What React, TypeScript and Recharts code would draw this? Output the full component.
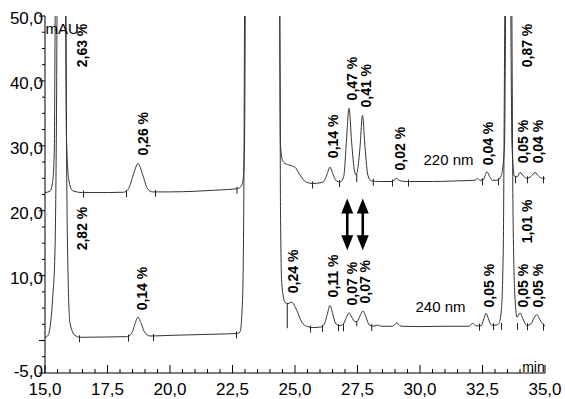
import { LineChart, Line, XAxis, YAxis, ReferenceDot, ReferenceLine } from 'recharts'

// retention time (min), signal (mAU)
const trace220: [number, number][] = [
  [15.0, 22.8], [15.2, 23.0], [15.3, 24.3], [15.37, 29], [15.43, 60], [15.8, 60], [15.86, 31],
  [15.95, 24.8], [16.1, 23.1], [16.5, 22.8], [17.5, 22.8], [18.15, 22.85], [18.34, 23.4],
  [18.53, 25.5], [18.72, 27.3], [18.91, 25.5], [19.1, 23.4], [19.3, 22.9], [20.0, 22.9],
  [21.0, 23.0], [22.0, 23.2], [22.7, 23.4], [22.85, 23.8], [22.93, 25], [22.98, 30], [23.03, 60],
  [24.37, 60], [24.42, 30], [24.5, 27.8], [24.6, 27.3], [24.8, 27.0], [25.0, 26.7], [25.2, 25.5],
  [25.45, 24.4], [25.7, 24.2], [26.0, 24.3], [26.15, 24.5], [26.28, 25.6], [26.4, 26.7],
  [26.52, 25.6], [26.65, 24.6], [26.8, 24.4], [26.95, 25.3], [27.05, 30.3], [27.16, 35.8],
  [27.27, 30.3], [27.38, 26.1], [27.44, 25.5], [27.5, 26.2], [27.6, 29.8], [27.7, 34.7],
  [27.8, 29.8], [27.92, 25.4], [28.05, 24.6], [28.4, 24.5], [28.9, 24.5], [29.05, 25.0],
  [29.2, 24.6], [29.5, 24.5], [30.5, 24.5], [31.5, 24.6], [32.2, 24.7], [32.3, 25.0], [32.4, 24.7],
  [32.52, 24.7], [32.6, 25.4], [32.68, 26.0], [32.78, 25.3], [32.9, 24.7], [33.1, 24.7],
  [33.25, 25.4], [33.38, 30], [33.45, 60], [33.6, 60], [33.68, 30], [33.78, 25.3], [33.88, 25.2],
  [34.0, 25.9], [34.15, 25.3], [34.28, 25.0], [34.45, 25.3], [34.6, 25.9], [34.75, 25.3],
  [34.9, 25.0], [35.0, 25.0],
]

const trace240: [number, number][] = [
  [15.0, 0.5], [15.1, 0.7], [15.2, 2.0], [15.3, 6.2], [15.4, 13.9], [15.46, 35], [15.5, 60],
  [15.82, 60], [15.87, 25], [15.93, 8.8], [16.0, 2.65], [16.2, 0.8], [16.4, 0.5], [17.5, 0.55],
  [18.3, 0.6], [18.5, 1.4], [18.6, 2.6], [18.72, 3.6], [18.85, 2.6], [18.98, 1.3], [19.2, 0.7],
  [20.0, 0.8], [21.0, 0.9], [22.0, 1.0], [22.7, 1.1], [22.8, 1.3], [22.9, 6.2], [22.95, 20],
  [23.0, 60], [24.38, 60], [24.42, 20], [24.47, 8.8], [24.6, 5.9], [24.72, 5.7], [24.87, 5.9],
  [25.07, 4.65], [25.27, 2.85], [25.47, 2.2], [25.73, 2.0], [26.05, 2.1], [26.2, 2.8], [26.3, 4.2],
  [26.4, 5.4], [26.5, 4.2], [26.62, 2.7], [26.75, 2.3], [26.9, 2.4], [27.05, 3.5], [27.16, 4.25],
  [27.27, 3.6], [27.4, 2.9], [27.5, 3.0], [27.6, 3.8], [27.72, 4.55], [27.84, 3.6], [27.97, 2.4],
  [28.1, 2.25], [28.2, 2.25], [28.3, 2.4], [28.45, 2.2], [28.9, 2.2], [29.07, 2.7], [29.25, 2.2],
  [30.0, 2.15], [31.0, 2.2], [31.95, 2.2], [32.1, 2.65], [32.25, 2.25], [32.45, 2.3], [32.55, 3.3],
  [32.64, 4.2], [32.74, 3.3], [32.85, 2.4], [33.0, 2.35], [33.15, 2.6], [33.25, 4.5], [33.33, 14],
  [33.42, 60], [33.65, 60], [33.72, 20], [33.8, 6.5], [33.88, 3.6], [34.0, 4.25], [34.12, 3.3],
  [34.27, 2.35], [34.45, 2.6], [34.55, 3.4], [34.67, 4.0], [34.8, 3.2], [34.92, 2.5], [35.0, 2.3],
]

// integration marks on the baselines: [time, signal]
const marks220: [number, number][] = [
  [16.54, 22.8], [18.26, 22.85], [19.42, 22.9], [22.68, 23.4], [25.7, 24.2], [26.78, 24.4],
  [28.13, 24.6], [28.9, 24.5], [29.54, 24.5], [32.5, 24.7], [33.14, 24.7], [33.82, 25.0],
  [34.3, 25.0], [34.94, 25.0],
]
const marks240: [number, number][] = [
  [16.38, 0.5], [18.34, 0.6], [19.34, 0.7], [22.66, 1.1], [25.62, 2.0], [26.1, 2.1], [26.74, 2.2],
  [26.94, 2.2], [28.07, 2.25], [32.38, 2.3], [32.94, 2.35], [33.26, 2.4], [33.9, 2.4], [34.3, 2.35],
  [34.94, 2.3],
]
// drop lines from a valley down to the baseline: [time, top, bottom]
const dropLines: [number, number, number][] = [
  [27.47, 25.6, 24.4], [24.69, 5.7, 1.9], [27.47, 2.95, 2.2],
]

// peak area labels: [time, signal where the text starts, text]
const labels220: [number, number, string][] = [
  [16.46, 42.1, '2,63 %'], [18.9, 28.5, '0,26 %'], [26.5, 28.1, '0,14 %'], [27.28, 37.0, '0,47 %'],
  [27.84, 35.9, '0,41 %'], [29.18, 26.2, '0,02 %'], [32.72, 27.0, '0,04 %'], [34.26, 42.1, '0,87 %'],
  [34.12, 27.3, '0,05 %'], [34.72, 27.3, '0,04 %'],
]
const labels240: [number, number, string][] = [
  [16.46, 13.9, '2,82 %'], [18.86, 4.65, '0,14 %'], [24.92, 7.3, '0,24 %'], [26.5, 6.65, '0,11 %'],
  [27.26, 5.4, '0,07 %'], [27.8, 5.7, '0,07 %'], [32.76, 5.1, '0,05 %'], [34.26, 15.0, '1,01 %'],
  [34.12, 5.1, '0,05 %'], [34.72, 5.1, '0,05 %'],
]
const arrowTimes = [27.09, 27.71]
const arrowRange = [21.9, 13.9]

const xTicks = [
  15, 15.5, 16, 16.5, 17, 17.5, 18, 18.5, 19, 19.5, 20, 20.5, 21, 21.5, 22, 22.5, 23, 23.5, 24, 24.5,
  25, 25.5, 26, 26.5, 27, 27.5, 28, 28.5, 29, 29.5, 30, 30.5, 31, 31.5, 32, 32.5, 33, 33.5, 34, 34.5, 35,
]
const yTicks = [-5, -2.5, 0, 2.5, 5, 7.5, 10, 12.5, 15, 17.5, 20, 22.5, 25, 27.5, 30, 32.5, 35, 37.5, 40, 42.5, 45, 47.5, 50]
const yLabeled = [50, 40, 30, 20, 10, -5]

const FONT = '"Liberation Sans", Arial, sans-serif'
const fmt = (v: number) => v.toFixed(1).replace('.', ',')

function XTick({ x, y, payload }: any) {
  const v = payload.value
  const major = v % 2.5 === 0
  return (
    <g>
      <line x1={x} x2={x} y1={y} y2={y - (major ? 8 : 4)} stroke="#000" />
      {major && (
        <text x={x} y={y + 22} textAnchor="middle" fontSize={17} fontFamily={FONT} fill="#000">
          {fmt(v)}
        </text>
      )}
    </g>
  )
}

function YTick({ x, y, payload }: any) {
  const v = payload.value
  const major = v % 10 === 0 || v === -5
  return (
    <g>
      <line x1={x - (major ? 6 : 3)} x2={x} y1={y} y2={y} stroke="#000" />
      {yLabeled.includes(v) && (
        <text x={x - 2} y={y + (v === -5 ? 4 : 8)} textAnchor="end" fontSize={17} fontFamily={FONT} fill="#000">
          {fmt(v)}
        </text>
      )}
    </g>
  )
}

// rotated percentage text, starting at the anchor and going up
const vText = (text: string) => (p: any) => (
  <text
    x={p.cx} y={p.cy} dy="0.36em"
    transform={`rotate(-90 ${p.cx} ${p.cy})`}
    fontSize={14} fontWeight="bold" fontFamily={FONT} fill="#000"
  >
    {text}
  </text>
)

const hText = (text: string, size: number, anchor = 'start') => (p: any) => (
  <text x={p.cx} y={p.cy} fontSize={size} fontFamily={FONT} fill="#000" textAnchor={anchor}>
    {text}
  </text>
)

const markShape = (p: any) => (
  <line x1={p.cx} x2={p.cx} y1={p.cy - 2} y2={p.cy + 5} stroke="#222" strokeWidth={1} />
)

function DoubleArrow({ x1, y1, y2 }: any) {
  const top = Math.min(y1, y2)
  const bot = Math.max(y1, y2)
  const hl = 15
  const hw = 6
  return (
    <g>
      <line x1={x1} x2={x1} y1={top + hl - 2} y2={bot - hl + 2} stroke="#000" strokeWidth={2.6} />
      <polygon points={`${x1},${top} ${x1 - hw},${top + hl} ${x1 + hw},${top + hl}`} fill="#000" />
      <polygon points={`${x1},${bot} ${x1 - hw},${bot - hl} ${x1 + hw},${bot - hl}`} fill="#000" />
    </g>
  )
}

const toRows = (d: [number, number][]) => d.map(([t, v]) => ({ t, v }))

export default function App() {
  return (
    <div style={{ position: 'absolute', left: 0, top: 0, width: 565, height: 399, background: '#fff' }}>
      <LineChart width={565} height={399} margin={{ top: 16, right: 20, bottom: 0, left: 0 }}>
        <XAxis
          dataKey="t" type="number" domain={[15, 35]} ticks={xTicks} interval={0}
          height={26} tickSize={0} tickMargin={0} tickLine={false} tick={<XTick />}
          axisLine={{ stroke: '#000' }} allowDataOverflow
        />
        <XAxis xAxisId="top" orientation="top" type="number" domain={[15, 35]} height={0} tick={false} axisLine={{ stroke: '#000' }} />
        <YAxis
          type="number" domain={[-5, 50]} ticks={yTicks} interval={0}
          width={45} tickSize={0} tickMargin={0} tickLine={false} tick={<YTick />}
          axisLine={{ stroke: '#000' }} allowDataOverflow
        />
        <YAxis yAxisId="right" orientation="right" type="number" domain={[-5, 50]} width={0} tick={false} axisLine={{ stroke: '#000' }} />

        <Line data={toRows(trace220)} dataKey="v" type="monotone" stroke="#333" strokeWidth={1}
          dot={false} activeDot={false} isAnimationActive={false} />
        <Line data={toRows(trace240)} dataKey="v" type="monotone" stroke="#333" strokeWidth={1}
          dot={false} activeDot={false} isAnimationActive={false} />

        {[...marks220, ...marks240].map(([t, v], i) => (
          <ReferenceDot key={'m' + i} x={t} y={v} r={0} shape={markShape} />
        ))}
        {dropLines.map(([t, top, bot], i) => (
          <ReferenceLine key={'d' + i} segment={[{ x: t, y: top }, { x: t, y: bot }]} stroke="#222" strokeWidth={1} />
        ))}
        {[...labels220, ...labels240].map(([t, v, text], i) => (
          <ReferenceDot key={'l' + i} x={t} y={v} r={0} shape={vText(text)} />
        ))}
        {arrowTimes.map((t, i) => (
          <ReferenceLine key={'a' + i} segment={[{ x: t, y: arrowRange[0] }, { x: t, y: arrowRange[1] }]} shape={DoubleArrow} />
        ))}
        <ReferenceDot x={30.14} y={27.0} r={0} shape={hText('220 nm', 15)} />
        <ReferenceDot x={29.82} y={4.35} r={0} shape={hText('240 nm', 15)} />
        <ReferenceDot x={15.02} y={47.3} r={0} shape={hText('mAU', 15)} />
        <ReferenceDot x={34.99} y={-4.9} r={0} shape={hText('min', 14, 'end')} />
      </LineChart>
    </div>
  )
}
